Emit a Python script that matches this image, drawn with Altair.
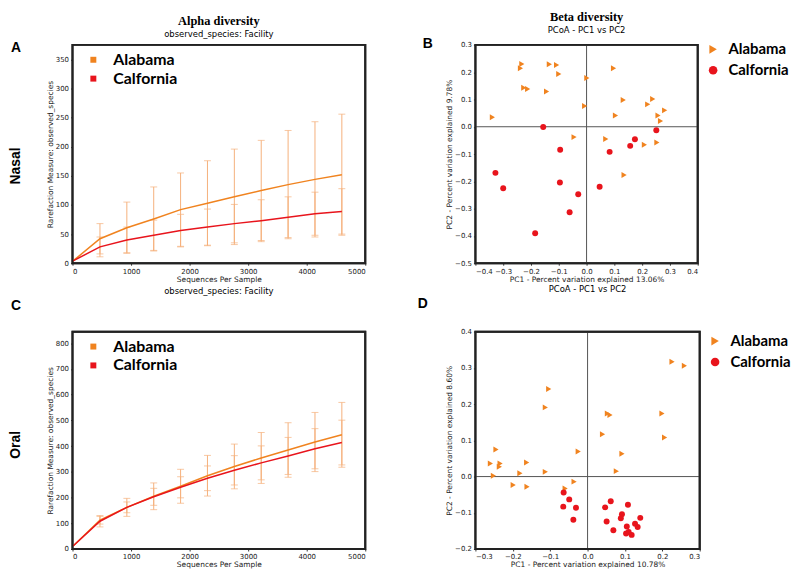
import altair as alt
import pandas as pd

# ---------------- data ----------------
groups = ["Alabama", "Calfornia"]
depth = [10, 469, 928, 1387, 1846, 2305, 2764, 3223, 3682, 4141, 4600]

nasal_alabama_mean = [4, 42, 61, 76, 92, 103, 114, 125, 135, 144, 152]
nasal_alabama_sd = [0, 26, 44, 55, 63, 73, 82, 86, 93, 99, 104]
nasal_calfornia_mean = [4, 28, 40, 48, 56, 62, 68, 73, 79, 85, 89]
nasal_calfornia_sd = [0, 17, 22, 26, 28, 31, 33, 36, 35, 37, 39]

oral_alabama_mean = [12, 112, 162, 205, 244, 285, 321, 354, 385, 416, 444]
oral_alabama_sd = [0, 15, 35, 52, 66, 79, 87, 99, 106, 115, 126]
oral_calfornia_mean = [12, 108, 162, 203, 240, 275, 306, 335, 362, 390, 414]
oral_calfornia_sd = [0, 22, 21, 33, 41, 48, 57, 66, 72, 78, 87]

nasal_y_ticks = [0, 50, 100, 150, 200, 250, 300, 350]
oral_y_ticks = [0, 100, 200, 300, 400, 500, 600, 700, 800]
depth_ticks = [0, 1000, 2000, 3000, 4000, 5000]

nasal_alabama_pc1 = [-0.233, -0.238, -0.134, -0.108, -0.100, 0.097, 0.001, -0.226, -0.212, -0.144,
                     -0.339, -0.007, 0.132, 0.238, 0.220, 0.281, 0.104, 0.257, 0.266, -0.045,
                     0.069, 0.208, 0.253, 0.135]
nasal_alabama_pc2 = [0.230, 0.214, 0.229, 0.226, 0.193, 0.214, 0.179, 0.143, 0.138, 0.129,
                     0.035, 0.076, 0.098, 0.102, 0.082, 0.060, 0.041, 0.041, 0.021, -0.038,
                     -0.045, -0.066, -0.058, -0.177]
nasal_calfornia_pc1 = [-0.156, -0.095, -0.328, -0.300, -0.096, -0.030, -0.061, -0.185, 0.047,
                       0.083, 0.157, 0.174, 0.251]
nasal_calfornia_pc2 = [-0.001, -0.084, -0.169, -0.225, -0.204, -0.247, -0.313, -0.390, -0.220,
                       -0.092, -0.070, -0.046, -0.013]

oral_alabama_pc1 = [0.226, 0.259, -0.104, -0.113, 0.053, 0.060, 0.199, 0.206, 0.040, 0.092,
                    -0.025, -0.245, -0.260, -0.234, -0.236, -0.163, -0.113, -0.181, -0.252, 0.077,
                    -0.199, -0.162, -0.036, -0.060]
oral_alabama_pc2 = [0.317, 0.306, 0.242, 0.191, 0.174, 0.170, 0.174, 0.108, 0.117, 0.063,
                    0.069, 0.075, 0.036, 0.036, 0.027, 0.039, 0.013, 0.009, 0.002, 0.015,
                    -0.023, -0.028, -0.014, -0.033]
oral_calfornia_pc1 = [-0.064, -0.049, -0.065, -0.031, -0.038, 0.062, 0.047, 0.108, 0.051, 0.092,
                      0.089, 0.141, 0.069, 0.105, 0.127, 0.134, 0.103, 0.110, 0.118]
oral_calfornia_pc2 = [-0.044, -0.063, -0.083, -0.086, -0.119, -0.068, -0.085, -0.078, -0.124, -0.104,
                      -0.115, -0.114, -0.148, -0.138, -0.130, -0.139, -0.157, -0.153, -0.161]

nasal_pc1_ticks = [-0.4, -0.3, -0.2, -0.1, 0.0, 0.1, 0.2, 0.3, 0.4]
nasal_pc2_ticks = [-0.5, -0.4, -0.3, -0.2, -0.1, 0.0, 0.1, 0.2, 0.3]
oral_pc1_ticks = [-0.3, -0.2, -0.1, 0.0, 0.1, 0.2, 0.3]
oral_pc2_ticks = [-0.2, -0.1, 0.0, 0.1, 0.2, 0.3, 0.4]

# ---------------- styling ----------------
ORANGE = "#F0831F"
RED = "#E8141C"
ERR = "#F5B07C"
FONT = "DejaVu Sans"
LEGEND_FONT = "Lato"
FRAME_COLOR = "#222222"


def text_layer(text, x, y, size, angle=0, font="Liberation Sans"):
    return alt.Chart(pd.DataFrame({"t": [text]})).mark_text(
        font=font, fontSize=size, fontWeight="bold", angle=angle,
        align="center", baseline="middle", color="black"
    ).encode(text="t:N", x=alt.value(x), y=alt.value(y))


def frame_layer(w, h):
    return alt.Chart(pd.DataFrame({"f": [0]})).mark_rect(
        fill="white", fillOpacity=0, stroke=FRAME_COLOR, strokeWidth=2, strokeOpacity=1
    ).encode(x=alt.value(0), x2=alt.value(w), y=alt.value(0), y2=alt.value(h))


def rarefaction_df(ma, sa, mc, sc):
    rows = []
    for g, m, s in ((groups[0], ma, sa), (groups[1], mc, sc)):
        for d, mm, ss in zip(depth, m, s):
            rows.append({"group": g, "depth": d, "mean": mm, "lo": mm - ss, "hi": mm + ss})
    return pd.DataFrame(rows)


def rarefaction_panel(df, ymax, yticks, title, letter, letter_xy, side, side_xy, w, h):
    xs = alt.Scale(domain=[0, 5000], nice=False)
    ys = alt.Scale(domain=[0, ymax], nice=False)
    xax = alt.Axis(values=depth_ticks, title="Sequences Per Sample", format="d")
    yax = alt.Axis(values=yticks, title="Rarefaction Measure: observed_species", format="d")
    X = alt.X("depth:Q", scale=xs, axis=xax)
    err = df[df["depth"] > 10]
    rules = alt.Chart(err).mark_rule(color=ERR, strokeWidth=1).encode(
        x=X, y=alt.Y("lo:Q", scale=ys, axis=yax), y2="hi:Q")
    cap_lo = alt.Chart(err).mark_tick(color=ERR, orient="horizontal", size=7, thickness=1).encode(
        x=X, y=alt.Y("lo:Q", scale=ys, axis=yax))
    cap_hi = alt.Chart(err).mark_tick(color=ERR, orient="horizontal", size=7, thickness=1).encode(
        x=X, y=alt.Y("hi:Q", scale=ys, axis=yax))
    lines = alt.Chart(df).mark_line(strokeWidth=1.5).encode(
        x=X, y=alt.Y("mean:Q", scale=ys, axis=yax),
        color=alt.Color("group:N", scale=alt.Scale(domain=groups, range=[ORANGE, RED]),
                        legend=alt.Legend(title=None, orient="none", legendX=13, legendY=7,
                                          symbolType="square", symbolSize=9, symbolStrokeWidth=3,
                                          labelFont=LEGEND_FONT, labelFontSize=16,
                                          labelFontWeight="bold", labelColor="black",
                                          rowPadding=3, labelOffset=12, padding=0)),
        order="depth:Q")
    return alt.layer(
        rules, cap_lo, cap_hi, lines, frame_layer(w, h),
        text_layer(letter, *letter_xy, 14),
        text_layer(side, *side_xy, 14, angle=270),
    ).properties(width=w, height=h, title=title)


def pcoa_df(a1, a2, c1, c2):
    return pd.DataFrame({
        "group": [groups[0]] * len(a1) + [groups[1]] * len(c1),
        "pc1": list(a1) + list(c1),
        "pc2": list(a2) + list(c2),
    })


def pcoa_panel(df, xticks, yticks, xtitle, ytitle, title, letter, letter_xy, legxy, w, h):
    xs = alt.Scale(domain=[xticks[0], xticks[-1]], nice=False, zero=False)
    ys = alt.Scale(domain=[yticks[0], yticks[-1]], nice=False, zero=False)
    xax = alt.Axis(values=xticks, format=".1f", title=xtitle)
    yax = alt.Axis(values=yticks, format=".1f", title=ytitle)
    zero = pd.DataFrame({"v": [0.0]})
    vline = alt.Chart(zero).mark_rule(color="#555", strokeWidth=1).encode(x=alt.X("v:Q", scale=xs, axis=xax))
    hline = alt.Chart(zero).mark_rule(color="#555", strokeWidth=1).encode(y=alt.Y("v:Q", scale=ys, axis=yax))
    leg = alt.Legend(title=None, orient="none", legendX=legxy[0], legendY=legxy[1],
                     symbolSize=75, labelFont=LEGEND_FONT, labelFontSize=15,
                     labelFontWeight="bold", labelColor="black", rowPadding=5,
                     labelOffset=8, padding=0)
    pts = alt.Chart(df).mark_point(filled=True, size=36, opacity=1).encode(
        x=alt.X("pc1:Q", scale=xs, axis=xax),
        y=alt.Y("pc2:Q", scale=ys, axis=yax),
        color=alt.Color("group:N", scale=alt.Scale(domain=groups, range=[ORANGE, RED]), legend=leg),
        shape=alt.Shape("group:N", scale=alt.Scale(domain=groups, range=["triangle-right", "circle"]), legend=leg),
    )
    return alt.layer(vline, hline, pts, frame_layer(w, h), text_layer(letter, *letter_xy, 14)).properties(
        width=w, height=h, title=title)


def sub_title(text, head=None):
    if head:
        return alt.TitleParams(text=head, subtitle=text, font="Liberation Serif", fontSize=12.5,
                               fontWeight="bold", color="black", subtitleFont=FONT,
                               subtitleFontSize=8.5, subtitleColor="black", subtitlePadding=3,
                               offset=2, anchor="middle")
    return alt.TitleParams(text=text, font=FONT, fontSize=8.5, fontWeight="normal",
                           color="black", offset=3, anchor="middle")


A = rarefaction_panel(
    rarefaction_df(nasal_alabama_mean, nasal_alabama_sd, nasal_calfornia_mean, nasal_calfornia_sd),
    375, nasal_y_ticks, sub_title("observed_species: Facility", "Alpha diversity"),
    "A", (-57, 3), "Nasal", (-57, 122), 295, 220)
B = pcoa_panel(
    pcoa_df(nasal_alabama_pc1, nasal_alabama_pc2, nasal_calfornia_pc1, nasal_calfornia_pc2),
    nasal_pc1_ticks, nasal_pc2_ticks, "PC1 - Percent variation explained 13.06%",
    "PC2 - Percent variation explained 9.78%", sub_title("PCoA - PC1 vs PC2", "Beta diversity"),
    "B", (-48, -1), (232, -3), 224, 220)
C = rarefaction_panel(
    rarefaction_df(oral_alabama_mean, oral_alabama_sd, oral_calfornia_mean, oral_calfornia_sd),
    845, oral_y_ticks, sub_title("observed_species: Facility"),
    "C", (-57, -26), "Oral", (-57, 114), 295, 219)
D = pcoa_panel(
    pcoa_df(oral_alabama_pc1, oral_alabama_pc2, oral_calfornia_pc1, oral_calfornia_pc2),
    oral_pc1_ticks, oral_pc2_ticks, "PC1 - Percent variation explained 10.78%",
    "PC2 - Percent variation explained 8.60%", sub_title("PCoA - PC1 vs PC2"),
    "D", (-53, -28), (234, 2), 226, 219)

chart = alt.concat(
    A, B, C, D, columns=2, bounds="flush", align="each",
    spacing={"row": 69, "column": 111}
).resolve_scale(
    color="independent", shape="independent"
).configure(padding=0, background="white").configure_view(
    stroke=FRAME_COLOR, strokeWidth=2
).configure_axis(
    labelFont=FONT, labelFontSize=7, labelColor="#222", titleFont=FONT, titleFontSize=7.5,
    titleFontWeight="normal", titleColor="#222", tickColor="#333", tickSize=2,
    domain=False, grid=False, labelPadding=2, titlePadding=1
)

chart.save("out.html", embed_options={"renderer": "svg", "actions": False})
